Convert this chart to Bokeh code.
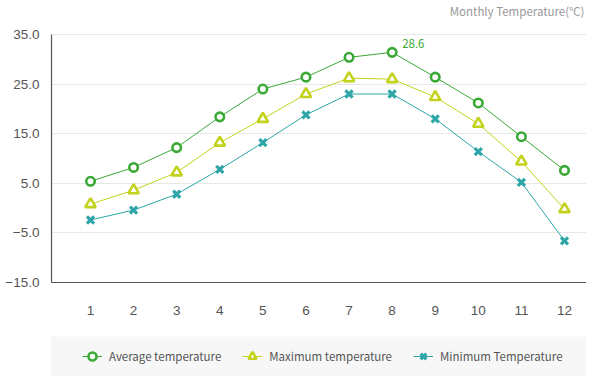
from bokeh.plotting import figure
from bokeh.layouts import column
from bokeh.models import Range1d, FixedTicker, Legend, LegendItem, Label
from bokeh.embed import file_html
from bokeh.resources import INLINE

# ---- data ----
months = [1, 2, 3, 4, 5, 6, 7, 8, 9, 10, 11, 12]
month_labels = ["1", "2", "3", "4", "5", "6", "7", "8", "9", "10", "11", "12"]
avg_temp = [5.4, 8.2, 12.2, 18.4, 24.0, 26.4, 30.4, 31.4, 26.4, 21.2, 14.4, 7.6]
max_temp = [0.8, 3.6, 7.2, 13.2, 18.0, 23.0, 26.2, 26.0, 22.4, 17.0, 9.4, -0.2]
min_temp = [-2.4, -0.4, 2.8, 7.8, 13.2, 18.8, 23.0, 23.0, 18.0, 11.4, 5.2, -6.6]
y_ticks = [-15, -5, 5, 15, 25, 35]
y_tick_labels = ["\u221215.0", "\u22125.0", "5.0", "15.0", "25.0", "35.0"]
series_names = ["Average temperature", "Maximum temperature", "Minimum Temperature"]
peak_label = "28.6"
peak_month = 8
chart_title = "Monthly Temperature(\u2103)"

# ---- styles / layout ----
GREEN = "#3aa935"
YELLOW = "#c3d21b"
TEAL = "#2ea6a8"
AXIS = "#555555"
GRID = "#e8e8e8"
TXT = "#555555"
FONT = "Noto Sans CJK KR"

W = 586
H_MAIN, H_LEG = 336, 40
LEFT, BOTTOM = 51, 54
TOP_PAD = 34                      # px between canvas top and the 35.0 line
FW = W - LEFT
FH = H_MAIN - BOTTOM
Y_LO, Y_HI = -15, 35
unit_y = (FH - TOP_PAD) / (Y_HI - Y_LO)
X0 = 0.095
X1 = X0 + FW / 43.09

p = figure(width=W, height=H_MAIN,
           x_range=Range1d(X0, X1),
           y_range=Range1d(Y_LO, Y_HI + TOP_PAD / unit_y),
           output_backend="svg", toolbar_location=None,
           min_border_left=LEFT, min_border_top=0, min_border_right=0,
           min_border_bottom=BOTTOM)
p.outline_line_color = None
p.background_fill_color = "white"
p.border_fill_color = "white"

# axes
p.xaxis.ticker = FixedTicker(ticks=months)
p.xaxis.major_label_overrides = {m: l for m, l in zip(months, month_labels)}
p.yaxis.ticker = FixedTicker(ticks=y_ticks)
p.yaxis.major_label_overrides = {t: l for t, l in zip(y_ticks, y_tick_labels)}
p.yaxis.bounds = (Y_LO, Y_HI)
for ax in (p.xaxis, p.yaxis):
    ax.axis_line_color = AXIS
    ax.axis_line_width = 1.2
    ax.major_tick_line_color = None
    ax.minor_tick_line_color = None
    ax.major_tick_out = 0
    ax.major_tick_in = 0
    ax.major_label_text_font = "Liberation Sans"
    ax.major_label_text_font_size = "13.5px"
    ax.major_label_text_color = TXT
p.xaxis.major_label_standoff = 23
p.yaxis.major_label_standoff = 12
p.xgrid.grid_line_color = None
p.ygrid.grid_line_color = GRID
p.ygrid.grid_line_width = 1

# series
def draw(fig, xs, ys, color, marker, size, lw, fill):
    l = fig.line(xs, ys, line_color=color, line_width=1)
    s = fig.scatter(xs, ys, marker=marker, size=size, line_color=color,
                    line_width=lw, fill_color=fill)
    return l, s

draw(p, months, avg_temp, GREEN, "circle", 8.5, 2.6, "white")
draw(p, months, max_temp, YELLOW, "triangle", 10.5, 2.6, "white")
draw(p, months, min_temp, TEAL, "x", 10, 3.2, None)

# peak label
p.add_layout(Label(x=peak_month, y=avg_temp[peak_month - 1], text=peak_label,
                   x_offset=10, y_offset=9, text_align="left",
                   text_baseline="middle", text_color=GREEN,
                   text_font=FONT, text_font_size="11.5px"))

# chart title (top right)
p.add_layout(Label(x=X1, y=Y_HI + TOP_PAD / unit_y, text=chart_title,
                   x_offset=-2, y_offset=-10, text_align="right",
                   text_baseline="middle", text_color="#999999",
                   text_font=FONT, text_font_size="11.5px"))

# ---- legend strip (its own small figure; series drawn off-view) ----
p2 = figure(width=W, height=H_LEG, x_range=Range1d(-2, -1),
            y_range=Range1d(-100, -99),
            x_axis_type=None, y_axis_type=None,
            output_backend="svg", toolbar_location=None,
            min_border_left=LEFT, min_border_right=0, min_border_top=0,
            min_border_bottom=0)
p2.outline_line_color = None
p2.background_fill_color = "#f7f7f7"
p2.border_fill_color = "white"
p2.grid.visible = False

lr1 = draw(p2, months, avg_temp, GREEN, "circle", 8.5, 2.6, "white")
lr2 = draw(p2, months, max_temp, YELLOW, "triangle", 10.5, 2.6, "white")
lr3 = draw(p2, months, min_temp, TEAL, "x", 10, 3.2, None)

legend = Legend(items=[LegendItem(label=series_names[0], renderers=list(lr1)),
                       LegendItem(label=series_names[1], renderers=list(lr2)),
                       LegendItem(label=series_names[2], renderers=list(lr3))],
                orientation="horizontal", location=(31, 10),
                background_fill_alpha=0, border_line_color=None,
                padding=0, margin=0, spacing=21, label_standoff=7,
                glyph_width=20, glyph_height=20, label_height=20,
                label_text_font=FONT,
                label_text_font_size="11.5px", label_text_color=TXT)
p2.add_layout(legend, "center")

layout = column(p, p2, spacing=0)
open("out.html", "w").write(file_html(layout, INLINE))
